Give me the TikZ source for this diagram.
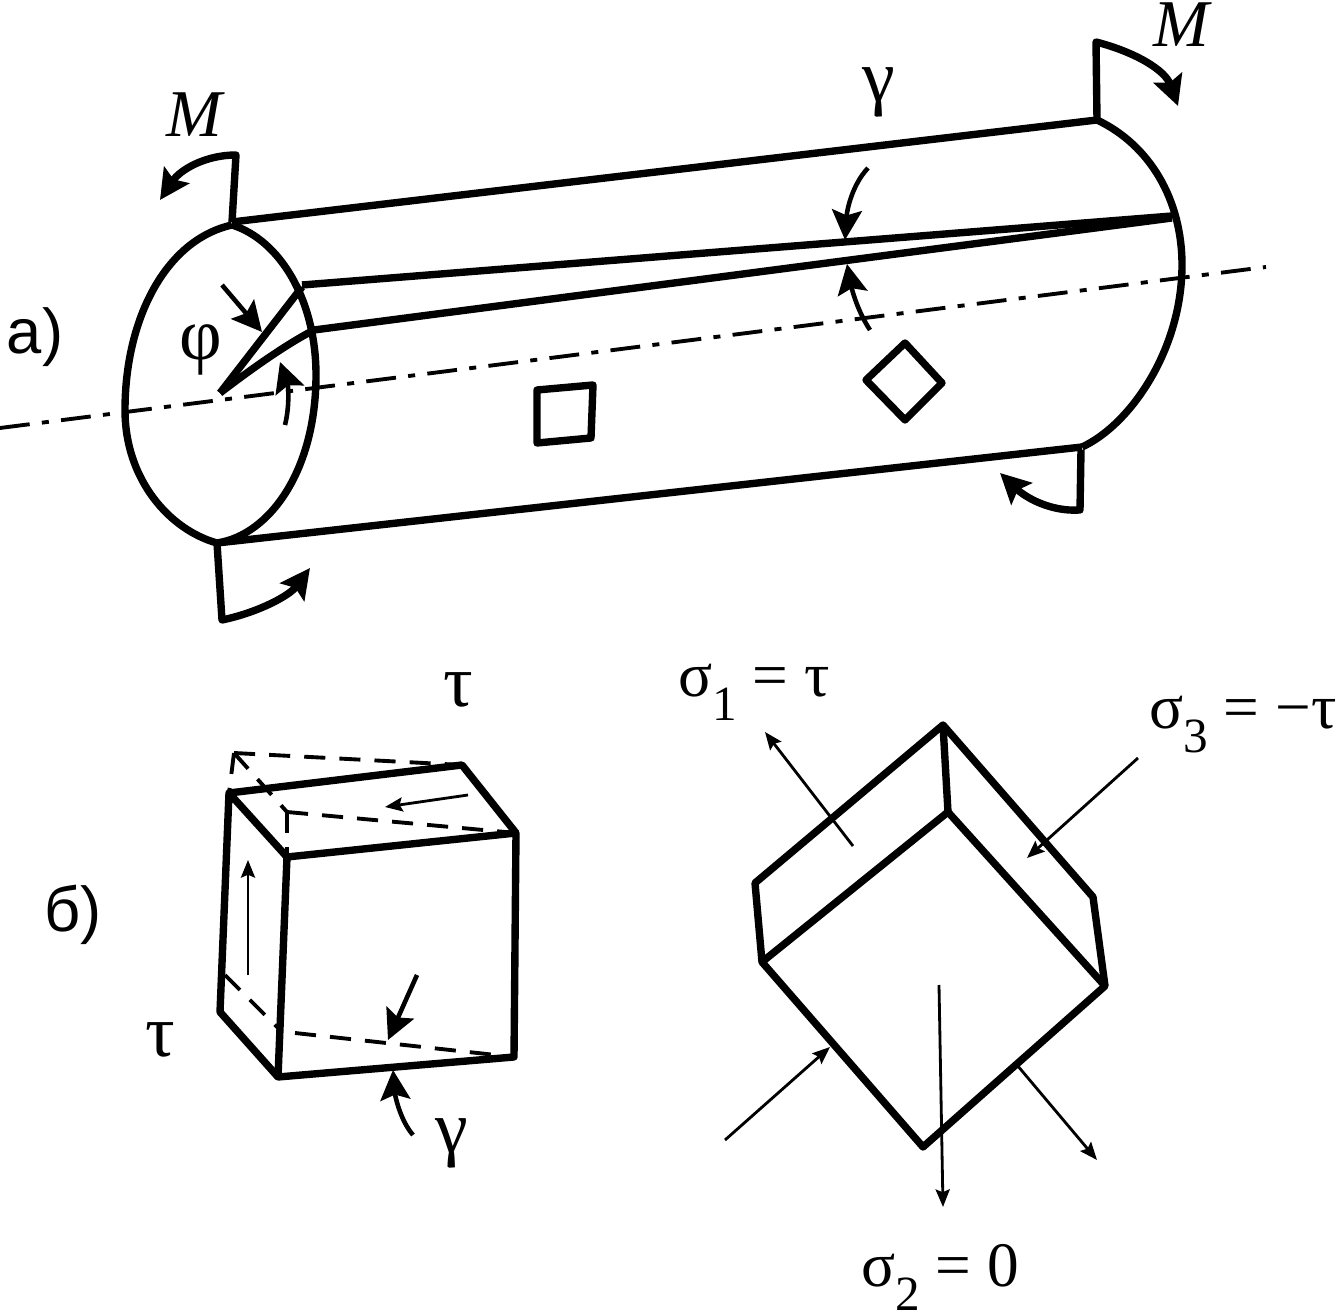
\documentclass[tikz,border=0pt]{standalone}
\usepackage{fontspec}
\setmainfont{Liberation Serif}
\newfontfamily\labelfont{Liberation Sans}
\usetikzlibrary{arrows.meta}
\newcommand{\lowsub}[1]{\raisebox{-0.38em}{\fontsize{14}{16}\selectfont #1}}
\tikzset{
    heavy/.style={line width=2.1pt, line join=round},
    medium/.style={line width=1.3pt},
    fine/.style={line width=0.8pt},
    axisline/.style={line width=1.1pt, dash pattern=on 8.5pt off 3.5pt on 2pt off 3.5pt},
    hidden/.style={line width=1.1pt, dash pattern=on 6pt off 4pt},
    bigtip/.style={-{Stealth[length=8.5pt,width=8.5pt,inset=1.5pt]}},
    smalltip/.style={-{Stealth[length=5pt,width=4pt,inset=0.8pt]}},
    symbol/.style={font=\fontsize{21}{24}\selectfont, inner sep=0pt},
    formula/.style={font=\fontsize{18}{20}\selectfont, inner sep=0pt},
}
\begin{document}
\begin{tikzpicture}[x=0.01cm, y=-0.01cm]
    \useasboundingbox (0,0) rectangle (1336,1316);

    % Draw the axis
    \draw[axisline] (0,428) -- (1266,267);

    % Draw the shaft
    \draw[heavy] (232,225) .. controls (165,240) and (125,320) .. (125,410)
        .. controls (125,480) and (170,530) .. (217,543);
    \draw[heavy] (232,225) .. controls (280,240) and (316,300) .. (316,375)
        .. controls (316,470) and (270,535) .. (217,543);
    \draw[heavy] (1097,120) .. controls (1150,145) and (1182,200) .. (1182,265)
        .. controls (1182,350) and (1130,425) .. (1082,447);
    \draw[heavy] (232,222) -- (1097,120);
    \draw[heavy] (217,543) -- (1082,447);

    % Draw the twisted generator
    \draw[heavy] (302,285) -- (1172,216);
    \draw[heavy] (314,330) -- (1172,218);
    \draw[heavy] (220,393) -- (302,287);
    \draw[heavy] (220,393) .. controls (250,370) and (285,345) .. (314,330);

    % Draw the square and the diamond
    \draw[heavy] (537,390) -- (593,385) -- (591,438) -- (537,443) -- cycle;
    \draw[heavy] (905,343) -- (942,383) -- (905,420) -- (866,380) -- cycle;

    % Draw the moment tabs
    \draw[heavy, bigtip] (232,222) -- (236,155) .. controls (205,155) and (180,170) .. (160,200);
    \draw[heavy, bigtip] (217,543) -- (222,620) .. controls (260,612) and (290,595) .. (310,568);
    \draw[heavy, bigtip] (1097,120) -- (1096,42) .. controls (1135,52) and (1165,70) .. (1178,106);
    \draw[heavy, bigtip] (1081,450) -- (1080,510) .. controls (1050,512) and (1025,497) .. (1000,473);

    % Draw the angle arrows on the shaft
    \draw[medium, bigtip] (222,285) -- (262,332);
    \draw[medium, bigtip] (285,425) .. controls (290,405) and (288,385) .. (280,362);
    \draw[medium, bigtip] (868,168) .. controls (852,185) and (847,210) .. (845,240);
    \draw[medium, bigtip] (870,330) .. controls (858,312) and (852,290) .. (847,264);

    % Draw the labels of the shaft
    \node[formula, font=\fontsize{19}{22}\selectfont] (m1) at (196,115) {\textit{M}};
    \node[formula, font=\fontsize{19}{22}\selectfont] (m2) at (1183,25) {\textit{M}};
    \node[symbol] (gamma1) at (879,92) {γ};
    \node[symbol] (phi) at (201,350) {φ};
    \node[formula] (parta) at (35,337) {\labelfont а)};

    % Draw the sheared block
    \draw[hidden] (234,753) -- (462,765);
    \draw[hidden] (234,753) -- (229,793);
    \draw[hidden] (234,753) -- (287,812);
    \draw[hidden] (287,812) -- (516,833);
    \draw[hidden] (287,812) -- (287,857);
    \draw[hidden] (225,975) -- (280,1030);
    \draw[hidden] (295,1033) -- (514,1057);
    \draw[heavy] (287,857) -- (516,833) -- (514,1057) -- (278,1077) -- cycle;
    \draw[heavy] (229,793) -- (462,765) -- (516,833);
    \draw[heavy] (287,857) -- (229,793) -- (220,1012) -- (278,1077);

    % Draw the arrows of the block
    \draw[fine, smalltip] (468,795) -- (385,807);
    \draw[fine, smalltip] (248,975) -- (248,860);
    \draw[medium, bigtip] (417,975) -- (388,1040);
    \draw[medium, bigtip] (413,1135) .. controls (400,1120) and (395,1095) .. (393,1070);

    % Draw the labels of the block
    \node[symbol] (tau1) at (458,690) {τ};
    \node[symbol] (tau2) at (160,1040) {τ};
    \node[symbol] (gamma2) at (452,1143) {γ};
    \node[formula] (partb) at (73,915) {\labelfont б)};

    % Draw the rotated block
    \draw[heavy] (943,725) -- (755,883) -- (762,962) -- (923,1147) -- (1105,986) -- (1093,897) -- cycle;
    \draw[heavy] (943,725) -- (948,812);
    \draw[heavy] (762,962) -- (948,812) -- (1105,986);

    % Draw the principal stress arrows
    \draw[fine, smalltip] (853,846) -- (765,732);
    \draw[fine, smalltip] (1138,758) -- (1027,858);
    \draw[fine, smalltip] (725,1140) -- (830,1047);
    \draw[fine, smalltip] (1017,1065) -- (1097,1160);
    \draw[fine, smalltip] (939,985) -- (943,1207);

    % Draw the labels of the stresses
    \node[formula] (s1) at (754,692) {σ\lowsub{1} = τ};
    \node[formula] (s3) at (1243,725) {σ\lowsub{3} = −τ};
    \node[formula] (s2) at (940,1277) {σ\lowsub{2} = 0};

\end{tikzpicture}
\end{document}
